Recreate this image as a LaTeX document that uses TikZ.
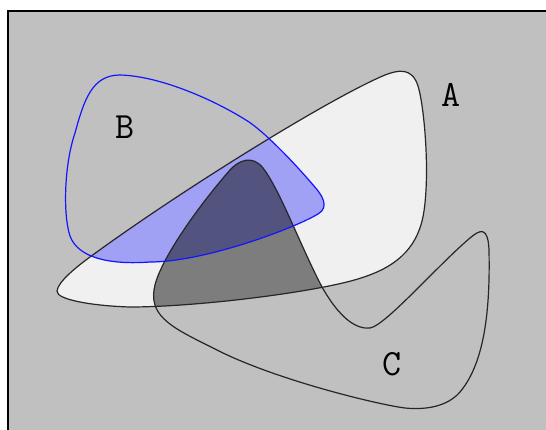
\documentclass[tikz,border=0pt]{standalone}
\usepackage{fontspec}
\definecolor{bgray}{RGB}{192,192,192}
\definecolor{afill}{RGB}{240,240,240}
\definecolor{bline}{RGB}{20,20,255}
\newcommand\shpA[1]{\path[#1] (57,291) .. controls (58,282) and (75,268) .. (90,257)
 .. controls (180,191) and (330,98) .. (385,75)
 .. controls (398,70) and (412,67) .. (418,86)
 .. controls (424,105) and (430,170) .. (424,211)
 .. controls (419,245) and (400,265) .. (364,277)
 .. controls (325,291) and (200,307) .. (130,307)
 .. controls (95,306) and (56,300) .. (57,291) -- cycle;}
\newcommand\shpB[1]{\path[#1] (120,75) .. controls (160,76) and (215,100) .. (249,122)
 .. controls (265,133) and (290,158) .. (314,186)
 .. controls (322,195) and (330,207) .. (318,214)
 .. controls (295,228) and (205,262) .. (150,262)
 .. controls (110,265) and (78,258) .. (70,236)
 .. controls (63,215) and (64,165) .. (75,133)
 .. controls (84,100) and (92,75) .. (120,75) -- cycle;}
\newcommand\shpC[1]{\path[#1] (230,170) .. controls (238,161) and (252,154) .. (263,168)
 .. controls (280,190) and (300,245) .. (322,287)
 .. controls (335,310) and (352,330) .. (370,328)
 .. controls (385,326) and (438,265) .. (470,238)
 .. controls (480,229.5) and (488,226) .. (489,250)
 .. controls (490,300) and (487,360) .. (460,392)
 .. controls (447,407) and (425,410) .. (405,408)
 .. controls (380,405) and (275,380) .. (215,349)
 .. controls (175,329) and (150,318) .. (154,290)
 .. controls (157,265) and (195,210) .. (230,170) -- cycle;}
\begin{document}
\begin{tikzpicture}[x=1pt,y=-1pt,
  outl/.style={line width=1.2pt, line join=round},
  lab/.style={font=\ttfamily\fontsize{37}{37}\selectfont, inner sep=0pt}]
\useasboundingbox (0,0) rectangle (546,430);
\fill[white] (0,0) rectangle (546,430);
\fill[bgray] (8,11) rectangle (546,430);
\draw[line width=1.6pt] (8,431) -- (8,11) -- (547,11);
\shpA{fill=afill}
\begin{scope}
 \shpA{clip}
 \shpB{fill=blue, fill opacity=0.333}
 \shpC{fill=black, fill opacity=0.48}
\end{scope}
\shpA{draw=black!85, outl}
\shpC{draw=black!85, outl}
\shpB{draw=bline, outl}
\node[lab] (la) at (451,95) {A};
\node[lab] (lb) at (125.5,127) {B};
\node[lab] (lc) at (392,364) {C};
\end{tikzpicture}
\end{document}
